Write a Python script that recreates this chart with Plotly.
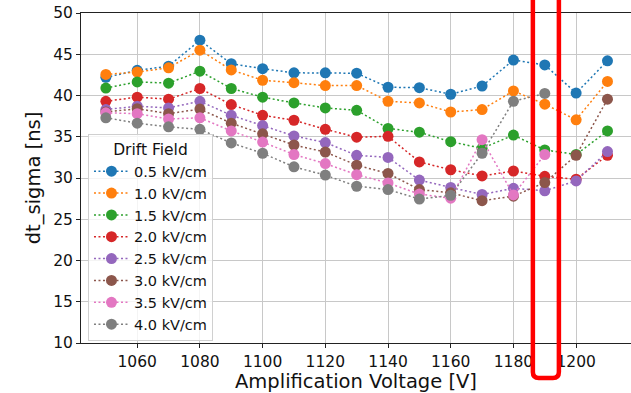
import plotly.graph_objects as go

# Amplification voltage scan [V]
voltages = [1050, 1060, 1070, 1080, 1090, 1100, 1110, 1120, 1130,
            1140, 1150, 1160, 1170, 1180, 1190, 1200, 1210]

# dt_sigma [ns] for each drift field
sigma_05 = [42.2, 43.05, 43.55, 46.7, 43.85, 43.25, 42.75, 42.75, 42.7,
            41.0, 40.95, 40.15, 41.15, 44.3, 43.7, 40.3, 44.2]
sigma_10 = [42.55, 42.85, 43.35, 45.5, 43.1, 41.85, 41.55, 41.2, 41.2,
            39.3, 39.1, 38.0, 38.3, 40.55, 38.95, 37.05, 41.7]
sigma_15 = [40.9, 41.65, 41.5, 42.95, 40.85, 39.8, 39.1, 38.5, 38.2,
            36.0, 35.55, 34.4, 33.6, 35.2, 33.4, 32.85, 35.7]
sigma_20 = [39.3, 39.8, 39.55, 40.85, 38.9, 37.6, 37.0, 35.9, 34.95,
            35.05, 31.95, 31.0, 30.25, 30.85, 30.2, 29.85, 32.75]
sigma_25 = [38.3, 38.7, 38.5, 39.3, 37.6, 36.35, 35.1, 34.3, 32.75,
            32.5, 29.75, 28.85, 28.0, 28.75, 28.45, 29.65, 33.2]
sigma_30 = [38.0, 38.4, 37.8, 38.35, 36.65, 35.35, 34.0, 33.15, 31.55,
            30.55, 28.6, 28.2, 27.25, 27.8, 29.45, 32.75, 39.55]
sigma_35 = [37.9, 37.8, 37.15, 37.3, 35.7, 34.35, 32.85, 31.75, 30.4,
            29.4, 28.05, 27.55, 34.65, 27.95, 32.85]
sigma_40 = [37.3, 36.65, 36.2, 35.9, 34.25, 33.0, 31.35, 30.35, 29.0,
            28.6, 27.45, 27.9, 33.0, 39.3, 40.25]

field_labels = ["0.5 kV/cm", "1.0 kV/cm", "1.5 kV/cm", "2.0 kV/cm",
                "2.5 kV/cm", "3.0 kV/cm", "3.5 kV/cm", "4.0 kV/cm"]
series = [sigma_05, sigma_10, sigma_15, sigma_20,
          sigma_25, sigma_30, sigma_35, sigma_40]
colors = ["#1f77b4", "#ff7f0e", "#2ca02c", "#d62728",
          "#9467bd", "#8c564b", "#e377c2", "#7f7f7f"]

# highlighted voltage window
highlight_lo, highlight_hi = 1186.2, 1194.5

FONT = "DejaVu Sans"

fig = go.Figure()
for label, ys, col in zip(field_labels, series, colors):
    fig.add_trace(go.Scatter(
        x=voltages[:len(ys)], y=ys, name=label, mode="lines+markers",
        line=dict(color=col, width=1.5, dash="2px,2.5px"),
        marker=dict(color=col, size=11),
    ))

# red rounded box around the highlighted window
rx, ry = 1.9, 0.018
y_bot, y_top = -0.106, 1.08
path = (f"M {highlight_lo},{y_top} L {highlight_lo},{y_bot + ry} "
        f"Q {highlight_lo},{y_bot} {highlight_lo + rx},{y_bot} "
        f"L {highlight_hi - rx},{y_bot} "
        f"Q {highlight_hi},{y_bot} {highlight_hi},{y_bot + ry} "
        f"L {highlight_hi},{y_top}")
fig.add_shape(type="path", path=path, xref="x", yref="paper",
              line=dict(color="#ff0000", width=4.5), layer="above")

axis_common = dict(
    showline=True, linecolor="#222222", linewidth=1, mirror=True,
    showgrid=True, gridcolor="#c8c8c8", gridwidth=1,
    ticks="outside", ticklen=4, tickcolor="#222222",
    tickfont=dict(family=FONT, size=15.5, color="#111111"),
    zeroline=False,
)

fig.update_layout(
    width=631, height=393,
    margin=dict(l=81, r=0, t=13, b=50),
    paper_bgcolor="white", plot_bgcolor="white",
    font=dict(family=FONT, color="#111111"),
    xaxis=dict(range=[1042.07, 1217.5], tickvals=list(range(1060, 1201, 20)),
               title=dict(text="Amplification Voltage [V]",
                          font=dict(family=FONT, size=19.5), standoff=3),
               **axis_common),
    yaxis=dict(range=[10, 50], tickvals=list(range(10, 51, 5)),
               title=dict(text="dt_sigma [ns]",
                          font=dict(family=FONT, size=19.5), standoff=7),
               **axis_common),
    legend=dict(
        x=0.0127, y=0.633, xanchor="left", yanchor="top",
        bgcolor="rgba(255,255,255,0.8)", bordercolor="#d0d0d0", borderwidth=1,
        font=dict(family=FONT, size=14.5, color="#111111"),
        title=dict(text="Drift Field", side="top center",
                   font=dict(family=FONT, size=15.5)),
        itemwidth=35,
    ),
    showlegend=True,
)

fig.write_html("out.html")
